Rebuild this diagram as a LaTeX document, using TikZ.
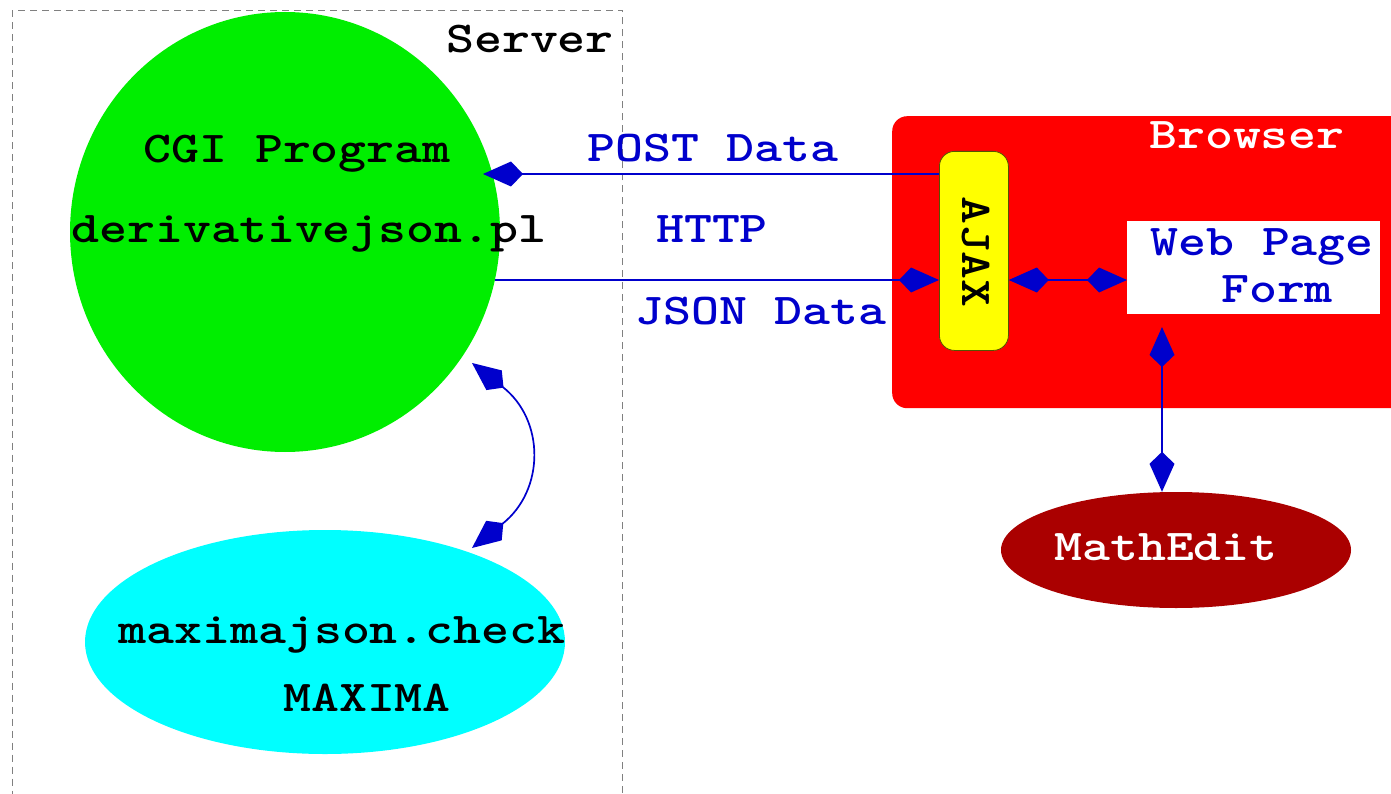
\documentclass[tikz,border=0pt]{standalone}
\usepackage{fontspec}
\usetikzlibrary{arrows.meta,shapes.geometric}
\definecolor{cgigreen}{HTML}{00EE00}
\definecolor{maxcyan}{HTML}{00FFFF}
\definecolor{brred}{HTML}{FF0000}
\definecolor{ajyellow}{HTML}{FFFF00}
\definecolor{medred}{HTML}{AA0000}
\definecolor{linkblue}{HTML}{0000CC}
\definecolor{ajedge}{HTML}{555500}
\newcommand\sx[1]{\scalebox{1.21}[1]{#1}}
\begin{document}
\begin{tikzpicture}[x=1pt,y=-1pt,
  lbl/.style={font=\fontsize{44}{50}\selectfont\ttfamily\bfseries, inner sep=0pt, anchor=base},
  conn/.style={draw=linkblue, line width=1.7pt},
  >={Kite[length=40pt,width=25pt,inset=12pt]}
]
\useasboundingbox (0,0) rectangle (1391,794);
% server frame
\node[draw=gray, dash pattern=on 7pt off 5pt, line width=1pt, minimum width=610pt, minimum height=820pt, inner sep=0pt, anchor=north west] (server) at (12,10) {};
% shapes
\node[ellipse, fill=cgigreen, minimum width=430pt, minimum height=440pt, inner sep=0pt] (cgi) at (285,232) {};
\node[ellipse, fill=maxcyan, minimum width=480pt, minimum height=224pt, inner sep=0pt] (maxima) at (325,642) {};
\node[fill=brred, rounded corners=15pt, minimum width=530pt, minimum height=292pt, inner sep=0pt, anchor=north west] (browser) at (892,116) {};
\node[fill=ajyellow, draw=ajedge, line width=0.8pt, rounded corners=15pt, minimum width=69pt, minimum height=199pt, inner sep=0pt, anchor=north west] (ajax) at (939,151) {};
\node[fill=white, minimum width=253pt, minimum height=93pt, inner sep=0pt, anchor=north west] (form) at (1127,221) {};
\node[ellipse, fill=medred, minimum width=350pt, minimum height=116pt, inner sep=0pt] (mathedit) at (1176,550) {};
% labels
\node[lbl] (serverlbl) at (530,53) {\sx{Server}};
\node[lbl] (cgi1) at (297,163) {\sx{CGI Program}};
\node[lbl] (cgi2) at (309,243) {\sx{derivativejson.pl}};
\node[lbl] (max1) at (342,643) {\sx{maximajson.check}};
\node[lbl] (max2) at (367,711) {\sx{MAXIMA}};
\node[lbl, text=linkblue] (postlbl) at (713,162) {\sx{POST Data}};
\node[lbl, text=linkblue] (httplbl) at (712,243) {\sx{HTTP}};
\node[lbl, text=linkblue] (jsonlbl) at (761,324) {\sx{JSON Data}};
\node[lbl, text=white] (browserlbl) at (1247,149) {\sx{Browser}};
\node[lbl, text=linkblue] (form1) at (1262,255) {\sx{Web Page}};
\node[lbl, text=linkblue] (form2) at (1277,302) {\sx{Form}};
\node[lbl, text=white] (medlbl) at (1166,560) {\sx{MathEdit}};
\node[lbl, anchor=center, rotate=-90] (ajaxlbl) at (976,252) {\sx{AJAX}};
% connectors
\coordinate (postend) at (483,174);
\coordinate (jsonstart) at (495,280);
\coordinate (formbot) at (1162,327);
\coordinate (arcA) at (472,363);
\coordinate (arcB) at (472,548);
\draw[conn,->] (ajax.west |- postend) -- (postend);
\draw[conn,->] (jsonstart) -- (jsonstart -| ajax.west);
\draw[conn,<->] (ajax.east |- jsonstart) -- (form.west |- jsonstart);
\draw[conn,<->] (formbot) -- (formbot |- mathedit.north);
\draw[conn,<->] (arcA) .. controls (545,420) and (545,490) .. (arcB);
\end{tikzpicture}
\end{document}
